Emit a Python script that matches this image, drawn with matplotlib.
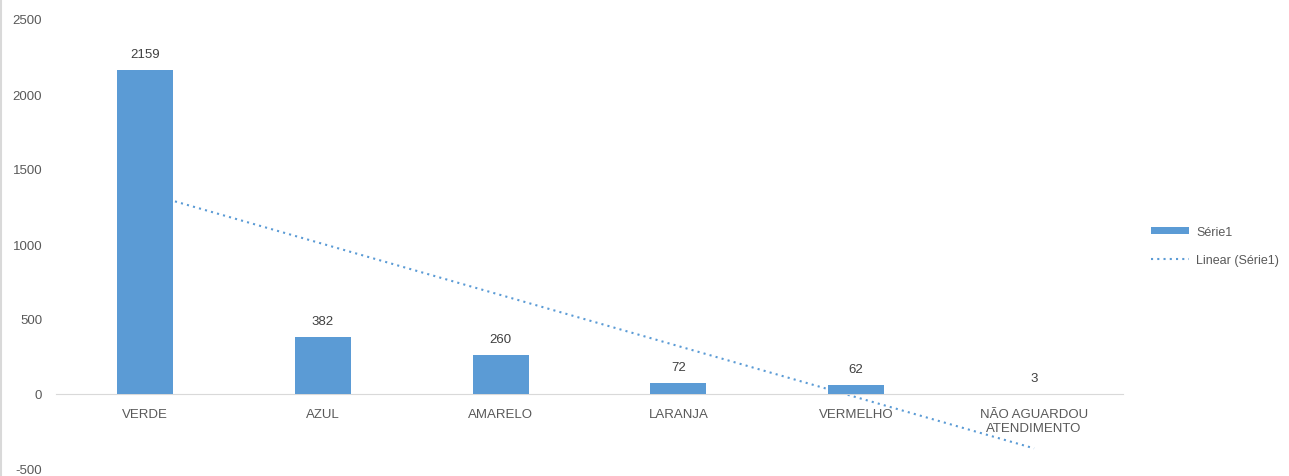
import numpy as np
import matplotlib.pyplot as plt
from matplotlib.patches import Patch
from matplotlib.lines import Line2D

categories = ['VERDE', 'AZUL', 'AMARELO', 'LARANJA', 'VERMELHO', 'NÃO AGUARDOU\nATENDIMENTO']
values = [2159, 382, 260, 72, 62, 3]
yticks = [-500, 0, 500, 1000, 1500, 2000, 2500]

plt.rcParams['font.family'] = ['Liberation Sans', 'DejaVu Sans']
plt.rcParams['axes.unicode_minus'] = False
bar_color = '#5b9bd5'
text_color = '#595959'

fig = plt.figure(figsize=(12.89, 4.77), dpi=100)
ax = fig.add_axes([56 / 1289, 7 / 477, (1123 - 56) / 1289, 450 / 477])

x = np.arange(1, len(values) + 1)
bars = ax.bar(x, values, width=0.315, color=bar_color, zorder=3)

# linear trendline like Excel
slope, intercept = np.polyfit(x, values, 1)
ax.plot(x, slope * x + intercept, color=bar_color, linestyle=(0, (1, 2)), linewidth=1.5, zorder=2)

for xi, v in zip(x, values):
    ax.annotate(str(v), (xi, v), xytext=(0, 7), textcoords='offset points',
                ha='center', va='bottom', fontsize=9.5, color='#404040')

ax.set_xlim(0.5, len(values) + 0.5)
ax.set_ylim(-500, 2500)
ax.set_yticks(yticks)
ax.set_xticks(x)
ax.set_xticklabels(categories)
ax.tick_params(axis='both', length=0, labelsize=9.5, labelcolor=text_color)
ax.tick_params(axis='y', pad=10)
ax.tick_params(axis='x', pad=10)
for s in ['top', 'right', 'left']:
    ax.spines[s].set_visible(False)
ax.spines['bottom'].set_position(('data', 0))
ax.spines['bottom'].set_color('#d9d9d9')

handles = [Patch(facecolor=bar_color, edgecolor='none'),
           Line2D([], [], color=bar_color, linestyle=(0, (1, 2)), linewidth=1.5)]
leg = fig.legend(handles, ['Série1', 'Linear (Série1)'], loc='center left',
                 bbox_to_anchor=(1140 / 1289, 1 - 247 / 477), frameon=False,
                 fontsize=9, handlelength=3.0, handleheight=0.5, labelspacing=1.3,
                 handletextpad=0.6, labelcolor=text_color)

fig.add_artist(Line2D([0.001, 0.001], [0, 1], color='#d9d9d9', linewidth=1.5))

fig.savefig('out.png', dpi=100)
